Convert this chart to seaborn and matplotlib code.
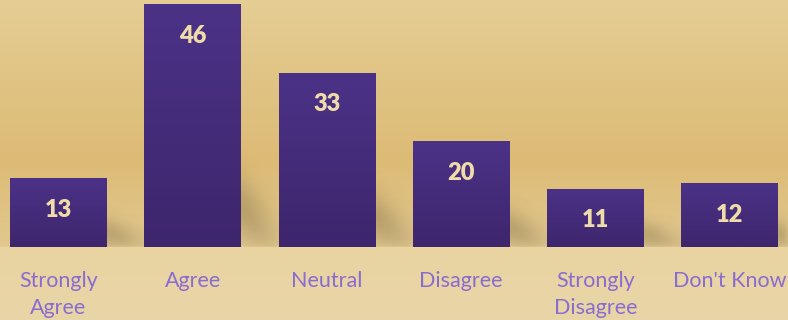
import numpy as np
import pandas as pd
import matplotlib
matplotlib.use("Agg")
import matplotlib.pyplot as plt
import seaborn as sns
from matplotlib.colors import to_rgb

# Survey responses (percent of respondents)
categories = ["Strongly\nAgree", "Agree", "Neutral", "Disagree", "Strongly\nDisagree", "Don't Know"]
values = [13, 46, 33, 20, 11, 12]

W, H, DPI = 788, 320, 100
AX_BOTTOM_PX = 73          # floor line, measured from figure bottom
AX_H_PX = H - AX_BOTTOM_PX

sns.set_theme(style="white")
plt.rcParams["font.family"] = ["Lato", "DejaVu Sans"]

fig = plt.figure(figsize=(W / DPI, H / DPI), dpi=DPI)


def vertical_gradient(stops, n):
    pos = np.array([p for p, _ in stops])
    cols = np.array([to_rgb(c) for _, c in stops])
    t = np.linspace(0, 1, n)
    return np.stack([np.interp(t, pos, cols[:, k]) for k in range(3)], axis=-1)


# warm backdrop: golden wall fading to a pale floor
bg = fig.add_axes([0, 0, 1, 1], zorder=0)
wall = vertical_gradient([(0.0, "#e5cd94"), (0.50, "#dcbb75"), (0.770, "#e2c88f"),
                          (0.774, "#e8d3a1"), (1.0, "#e9d6a8")], H)
bg.imshow(wall[:, None, :].repeat(4, axis=1), extent=[0, 1, 0, 1], aspect="auto")
bg.set_xlim(0, 1)
bg.set_ylim(0, 1)
bg.axis("off")

ax = fig.add_axes([0, AX_BOTTOM_PX / H, 1, AX_H_PX / H], zorder=1)
ax.patch.set_alpha(0)

df = pd.DataFrame({"response": categories, "percent": values})
sns.barplot(data=df, x="response", y="percent", ax=ax, width=0.72,
            color="#46307e", saturation=1, errorbar=None)

xlim = (-0.4356, 5.4356)
ylim = (0, 46.95)
ax.set_xlim(*xlim)
ax.set_ylim(*ylim)


def blur(img, sigma):
    r = int(3 * sigma)
    k = np.exp(-0.5 * (np.arange(-r, r + 1) / sigma) ** 2)
    k /= k.sum()
    img = np.apply_along_axis(lambda m: np.convolve(m, k, mode="same"), 0, img)
    return np.apply_along_axis(lambda m: np.convolve(m, k, mode="same"), 1, img)


# soft cast shadows behind each bar
px_x = W / (xlim[1] - xlim[0])
px_y = AX_H_PX / (ylim[1] - ylim[0])
xx, yy = np.meshgrid(np.arange(W) + 0.5, np.arange(AX_H_PX)[::-1] + 0.5)
shade = np.zeros_like(xx)
for bar in ax.patches:
    xr = (bar.get_x() + bar.get_width() - xlim[0]) * px_x
    hp = bar.get_height() * px_y
    c0 = 0.15 * hp + 4
    run = 44.0
    dx = xx - xr
    centre = c0 * np.clip(1 - dx / run, 0, 1)
    sig = 0.09 * hp + 8
    band = np.exp(-((yy - centre) / sig) ** 2)
    fade = np.where(dx >= -6, np.exp(-(np.maximum(dx, 0) / (run * 0.8)) ** 2), 0)
    shade = np.maximum(shade, band * fade)
shade = blur(shade, 4)
shadow_rgba = np.zeros((AX_H_PX, W, 4))
shadow_rgba[..., :3] = to_rgb("#4d3f22")
shadow_rgba[..., 3] = 0.27 * shade
ax.imshow(shadow_rgba, extent=[xlim[0], xlim[1], ylim[0], ylim[1]],
          aspect="auto", zorder=0.5, interpolation="bilinear")

# purple bars with a gentle top-to-bottom gradient
bar_grad = vertical_gradient([(0.0, "#4b3287"), (1.0, "#3e266d")], 64)[:, None, :]
for bar, v in zip(ax.patches, values):
    x0, w, h = bar.get_x(), bar.get_width(), bar.get_height()
    bar.set_facecolor("none")
    bar.set_edgecolor("none")
    ax.imshow(bar_grad, extent=[x0, x0 + w, 0, h], aspect="auto", zorder=2)
    ax.annotate(f"{v}", (x0 + w / 2, h), xytext=(0, -22.3), textcoords="offset points",
                ha="center", va="center", fontsize=17, fontweight="heavy",
                color="#f0dca9", zorder=3)

ax.set_xlim(*xlim)
ax.set_ylim(*ylim)
ax.set_xlabel("")
ax.set_ylabel("")
ax.set_yticks([])
ax.tick_params(axis="x", length=0, pad=17.5, labelsize=15.5, labelcolor="#8a6bd0")
for lbl in ax.get_xticklabels():
    lbl.set_linespacing(1.4)
for s in ax.spines.values():
    s.set_visible(False)
ax.grid(False)

fig.savefig("out.png", dpi=DPI)
